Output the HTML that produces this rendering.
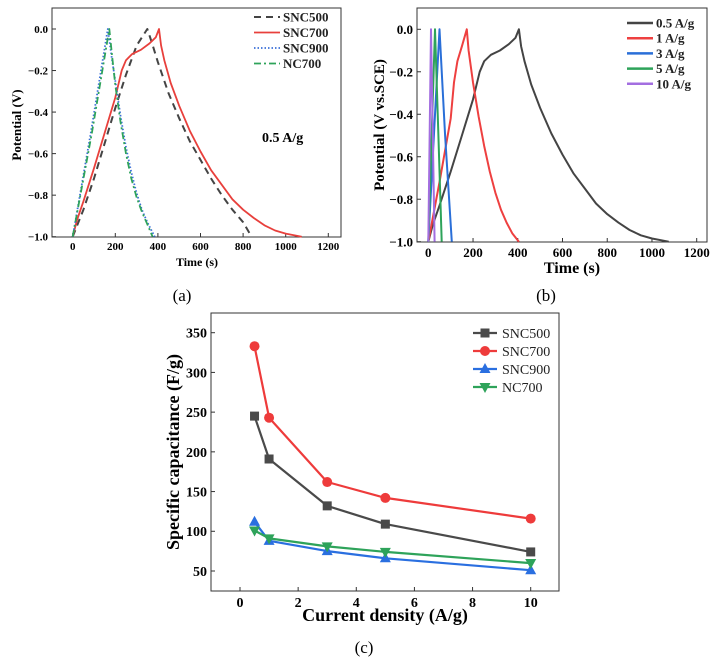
<!DOCTYPE html>
<html><head><meta charset="utf-8"><style>
body{margin:0;background:#fff;}
svg{display:block;font-family:"Liberation Serif",serif;}
</style></head><body>
<svg id="s" width="718" height="660" xmlns="http://www.w3.org/2000/svg"></svg>
<script>
// ---- panel (a) data: [time, potential] pairs ----
const aSNC500 = [[0,-1],[50,-0.87],[100,-0.72],[150,-0.55],[200,-0.38],[250,-0.22],[300,-0.08],[350,0],[370,-0.06],[400,-0.16],[450,-0.31],[500,-0.43],[550,-0.54],[600,-0.63],[650,-0.72],[700,-0.8],[750,-0.87],[800,-0.93],[840,-1]];
const aSNC700 = [[0,-1],[20,-0.92],[50,-0.83],[100,-0.67],[150,-0.5],[200,-0.33],[230,-0.2],[250,-0.15],[280,-0.12],[320,-0.1],[360,-0.07],[390,-0.04],[405,0],[415,-0.08],[430,-0.15],[460,-0.26],[500,-0.37],[550,-0.49],[600,-0.59],[650,-0.68],[700,-0.75],[750,-0.82],[800,-0.87],[850,-0.91],[900,-0.945],[950,-0.97],[1000,-0.985],[1075,-1]];
const aSNC900 = [[0,-1],[85,-0.5],[165,0],[185,-0.15],[200,-0.25],[225,-0.42],[250,-0.57],[275,-0.69],[300,-0.79],[325,-0.87],[350,-0.93],[385,-1]];
const aNC700 = [[0,-1],[90,-0.5],[172,0],[185,-0.13],[200,-0.27],[225,-0.45],[250,-0.6],[275,-0.72],[300,-0.81],[325,-0.88],[350,-0.94],[375,-1]];
const aNames = ["SNC500","SNC700","SNC900","NC700"];
// ---- panel (b) data ----
const b05 = aSNC700;
const b1 = [[0,-1],[50,-0.72],[100,-0.42],[115,-0.25],[130,-0.15],[150,-0.08],[172,0],[180,-0.1],[200,-0.25],[225,-0.41],[250,-0.55],[275,-0.67],[300,-0.77],[325,-0.85],[350,-0.91],[375,-0.96],[405,-1]];
const b3 = [[0,-1],[50,0],[75,-0.5],[105,-1]];
const b5 = [[0,-1],[30,0],[45,-0.5],[60,-1]];
const b10 = [[0,-1],[12,0],[20,-0.5],[28,-1]];
const bNames = ["0.5 A/g","1 A/g","3 A/g","5 A/g","10 A/g"];
// ---- panel (c) data ----
const cX = [0.5,1,3,5,10];
const cSNC500 = [245,191,132,109,74];
const cSNC700 = [333,243,162,142,116];
const cSNC900 = [112,88,75,66,51];
const cNC700 = [101,91,81,74,60];
const cNames = ["SNC500","SNC700","SNC900","NC700"];
const timeTicks = [0,200,400,600,800,1000,1200];
const potTicks = [0,-0.2,-0.4,-0.6,-0.8,-1.0];
const cxTicks = [0,2,4,6,8,10];
const cyTicks = [50,100,150,200,250,300,350];

const S=document.getElementById('s');const NS='http://www.w3.org/2000/svg';
function el(t,a,txt){const e=document.createElementNS(NS,t);for(const k in a)e.setAttribute(k,a[k]);if(txt!==undefined)e.textContent=txt;S.appendChild(e);return e;}
function panel(p){
  const fr=el('rect',{x:p.l,y:p.t,width:p.r-p.l,height:p.b-p.t,fill:'none',stroke:'#333','stroke-width':1});
  
  
  p.xt.forEach(v=>{const x=p.fx(v);
    el('line',{x1:x,x2:x,y1:p.b,y2:p.b-4,stroke:'#333'});
    const t=el('text',{x:x,y:p.b+p.fs+2,'text-anchor':'middle','font-size':p.fs,'font-weight':'bold'},p.xf(v));
    
    });
  p.yt.forEach(v=>{const y=p.fy(v);
    el('line',{x1:p.l,x2:p.l+4,y1:y,y2:y,stroke:'#333'});
    const t=el('text',{x:p.l-4,y:y+p.fs*0.35,'text-anchor':'end','font-size':p.fs,'font-weight':'bold'},p.yf(v));
    
    });
}
function line(p,pts,st,name){
  const d=pts.map((q,i)=>(i?'L':'M')+p.fx(q[0]).toFixed(1)+','+p.fy(q[1]).toFixed(1)).join('');
  const e=el('path',Object.assign({d:d,fill:'none','stroke-linejoin':'round'},st));
  
  
}
const fmtP=v=>v===0?'0.0':(v<0?'\u2212':'')+Math.abs(v).toFixed(1);
// panel a
const A={id:'a',l:52,r:341,t:8,b:237,fs:11,xt:timeTicks,yt:potTicks,xf:v=>v,yf:fmtP,
 fx:v=>72.7+v*(255.6/1200),fy:v=>29-v*207.7};
panel(A);
const aSt=[{stroke:'#444','stroke-width':2,'stroke-dasharray':'7,5'},{stroke:'#e8403c','stroke-width':1.8},{stroke:'#3a6fd8','stroke-width':1.8,'stroke-dasharray':'1.5,2'},{stroke:'#2ea35a','stroke-width':1.8,'stroke-dasharray':'7,3,2,3'}];
[aSNC500,aSNC700,aSNC900,aNC700].forEach((s,i)=>line(A,s,aSt[i],'a-line-'+aNames[i].toLowerCase()));
aNames.forEach((n,i)=>{const y=17+i*15.5;
  const l=el('line',Object.assign({x1:254,x2:280,y1:y,y2:y},aSt[i]));
  
  const t=el('text',{x:283,y:y+4.5,'font-size':13,'font-weight':'bold',fill:'#222'},n);
  });
let t;
t=el('text',{x:262,y:142,'font-size':14,'font-weight':'bold'},'0.5 A/g');
t=el('text',{x:197,y:266,'text-anchor':'middle','font-size':12,'font-weight':'bold'},'Time (s)');
t=el('text',{x:0,y:0,'text-anchor':'middle','font-size':13,'font-weight':'bold',transform:'translate(21,125) rotate(-90)'},'Potential (V)');
t=el('text',{x:182,y:301,'text-anchor':'middle','font-size':17},'(a)');
// panel b
const B={id:'b',l:417,r:707,t:8,b:242,fs:13,xt:timeTicks,yt:potTicks,xf:v=>v,yf:fmtP,
 fx:v=>428.3+v*(268.4/1200),fy:v=>29.3-v*212.4};
panel(B);
const bCol=['#444','#ee4040','#2a6fd8','#2ea35a','#a36ee0'];
[b05,b1,b3,b5,b10].forEach((s,i)=>line(B,s,{stroke:bCol[i],'stroke-width':2},'b-line-'+bNames[i].replace(/[ .\/]/g,'')));
bNames.forEach((n,i)=>{const y=23+i*15.2;
  const l=el('line',{x1:627,x2:653,y1:y,y2:y,stroke:bCol[i],'stroke-width':2.5});
  
  const t=el('text',{x:656,y:y+4.5,'font-size':13,'font-weight':'bold',fill:'#222'},n);
  });
t=el('text',{x:572,y:273,'text-anchor':'middle','font-size':16,'font-weight':'bold'},'Time (s)');
t=el('text',{x:0,y:0,'text-anchor':'middle','font-size':15,'font-weight':'bold',transform:'translate(384,125) rotate(-90)'},'Potential (V vs.SCE)');
t=el('text',{x:546,y:301,'text-anchor':'middle','font-size':17},'(b)');
// panel c
const C={id:'c',l:211,r:559,t:313,b:591,fs:14,xt:cxTicks,yt:cyTicks,xf:v=>v,yf:v=>v,
 fx:v=>240+v*29.07,fy:v=>571-(v-50)*(238.3/300)};
panel(C);
const cCol=['#4a4a4a','#ee3b3b','#2a6fe0','#2ea35a'];
const cMk=['sq','ci','tu','td'];
function marker(x,y,k,c){let e;
  if(k==='sq')e=el('rect',{x:x-4.5,y:y-4.5,width:9,height:9,fill:c});
  else if(k==='ci')e=el('circle',{cx:x,cy:y,r:5,fill:c});
  else if(k==='tu')e=el('path',{d:`M${x},${y-6}L${x+5.5},${y+4}L${x-5.5},${y+4}Z`,fill:c});
  else e=el('path',{d:`M${x},${y+6}L${x+5.5},${y-4}L${x-5.5},${y-4}Z`,fill:c});
  return e;}
[cSNC500,cSNC700,cSNC900,cNC700].forEach((s,i)=>{
  line(C,cX.map((x,j)=>[x,s[j]]),{stroke:cCol[i],'stroke-width':2.2},'c-line-'+cNames[i].toLowerCase());
  s.forEach((v,j)=>{const m=marker(C.fx(cX[j]),C.fy(v),cMk[i],cCol[i]);
    
    });});
cNames.forEach((n,i)=>{const y=333+i*18;
  const l=el('line',{x1:473,x2:497,y1:y,y2:y,stroke:cCol[i],'stroke-width':2.2});
  
  const m=marker(485,y,cMk[i],cCol[i]);
  
  const t=el('text',{x:502,y:y+5,'font-size':14,fill:'#222'},n);
  });
t=el('text',{x:385,y:621,'text-anchor':'middle','font-size':18,'font-weight':'bold'},'Current density (A/g)');
t=el('text',{x:0,y:0,'text-anchor':'middle','font-size':18,'font-weight':'bold',transform:'translate(179,452) rotate(-90)'},'Specific capacitance (F/g)');
t=el('text',{x:364,y:653,'text-anchor':'middle','font-size':17},'(c)');
</script>
</body></html>
